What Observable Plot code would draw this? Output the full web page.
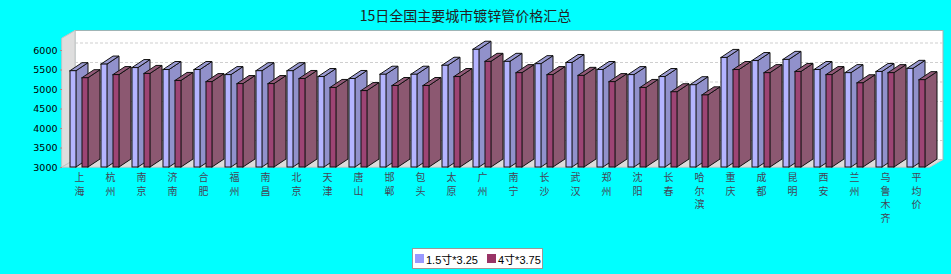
<!DOCTYPE html>
<html><head><meta charset="utf-8">
<script src="https://cdn.jsdelivr.net/npm/d3@7"></script>
<script src="https://cdn.jsdelivr.net/npm/@observablehq/plot@0.6"></script>
<style>
html,body{margin:0;padding:0;background:#00ffff;}
#wrap{width:951px;height:274px;position:relative;overflow:hidden;font-family:"Noto Sans CJK SC",sans-serif;}
#title{height:30px;line-height:30px;text-align:center;font-size:14px;color:#222;padding-right:20px;}
#chart svg{display:block;background:transparent;}
#legend{position:absolute;left:412px;top:248px;width:131px;height:21px;box-sizing:border-box;border:1px solid #999;background:#fff;font-size:11px;font-family:"Liberation Sans","Noto Sans CJK SC",sans-serif;color:#000;display:flex;align-items:center;padding-left:2px;white-space:nowrap;}
#legend .sw{display:inline-block;width:9px;height:9px;margin-right:2px;}
#legend .it{display:flex;align-items:center;margin-right:9px;}
</style></head>
<body><div id="wrap"><div id="title"></div><div id="chart"></div><div id="legend"></div></div>
<script>
const title = "15日全国主要城市镀锌管价格汇总";
const cities = ["上海","杭州","南京","济南","合肥","福州","南昌","北京","天津","唐山","邯郸","包头","太原","广州","南宁","长沙","武汉","郑州","沈阳","长春","哈尔滨","重庆","成都","昆明","西安","兰州","乌鲁木齐","平均价"];
const seriesNames = ["1.5寸*3.25","4寸*3.75"];
const s1 = [5470,5640,5550,5500,5500,5370,5470,5470,5320,5270,5380,5380,5610,6020,5710,5650,5680,5500,5370,5320,5110,5810,5730,5760,5500,5420,5450,5530];
const s2 = [5290,5370,5400,5220,5190,5140,5140,5270,5040,4960,5090,5090,5320,5710,5420,5370,5350,5190,5040,4930,4850,5500,5420,5450,5370,5160,5420,5240];
const yTicks = [3000,3500,4000,4500,5000,5500,6000];

// layout constants
const W = 951, H = 215, mL = 62, mR = 21, mT = 8, mB = 78;
const yMin = 3000, yMax = 6308, n = cities.length;
const xu = px => px / ((W - mL - mR) / n);
const yu = px => px * (yMax - yMin) / (H - mT - mB);
const wallDx = 13, wallDy = 7.5, barDx = 12, barDy = 8;
const labelTop = 10.7, labelStep = 13.4;

document.getElementById("title").textContent = title;

const styles = [
  {off: 8, front: "#b4b4ff", side: "#9191cb", top: "#9a9ad2"},
  {off: 20, front: "#9d4474", side: "#8c5871", top: "#925a78"}
];

function barMarks(vals, st) {
  const fronts = [], sides = [], tops = [];
  vals.forEach((v, i) => {
    const xl = i + xu(st.off), xr = xl + xu(6), dx = xu(barDx), dy = yu(barDy);
    fronts.push({x1: xl, x2: xr, y1: yMin, y2: v});
    sides.push({c: i, x: xr, y1: yMin, y2: v}, {c: i, x: xr + dx, y1: yMin + dy, y2: v + dy});
    tops.push({c: i, y: v, x1: xl, x2: xr}, {c: i, y: v + dy, x1: xl + dx, x2: xr + dx});
  });
  return [
    Plot.areaY(sides, {x: "x", y1: "y1", y2: "y2", z: "c", fill: st.side, stroke: "#111", strokeWidth: 1}),
    Plot.areaX(tops, {y: "y", x1: "x1", x2: "x2", z: "c", fill: st.top, stroke: "#111", strokeWidth: 1}),
    Plot.rect(fronts, {x1: "x1", x2: "x2", y1: "y1", y2: "y2", fill: st.front, stroke: "#111", strokeWidth: 1})
  ];
}

// one text element per character so each label stacks vertically
const labelChars = [];
cities.forEach((c, i) => [...c].forEach((ch, k) => labelChars.push({i, k, ch})));

const wdx = xu(wallDx), wdy = yu(wallDy);
const chart = Plot.plot({
  width: W, height: H,
  marginLeft: mL, marginRight: mR, marginTop: mT, marginBottom: mB,
  style: {background: "transparent", fontFamily: "DejaVu Sans, sans-serif", overflow: "visible"},
  x: {type: "linear", domain: [0, n], axis: null},
  y: {domain: [yMin, yMax], axis: null, clamp: false},
  marks: [
    // back wall
    Plot.rect([{x1: 0, x2: n, y1: yMin, y2: yMax}], {x1: "x1", x2: "x2", y1: "y1", y2: "y2", dx: wallDx, dy: -wallDy, fill: "#fff", stroke: "#9fb5b5", strokeWidth: 1}),
    Plot.ruleY(yTicks.filter(t => t > yMin), {x1: 0, x2: n, dx: wallDx, dy: -wallDy, stroke: "#cfcfcf", strokeDasharray: "3,2"}),
    // left wall
    Plot.areaY([{x: 0, y1: yMin, y2: yMax}, {x: wdx, y1: yMin + wdy, y2: yMax + wdy}], {x: "x", y1: "y1", y2: "y2", fill: "#dedede", stroke: "#c4c4c4"}),
    // floor
    Plot.areaX([{y: yMin, x1: 0, x2: n}, {y: yMin + wdy, x1: wdx, x2: n + wdx}], {y: "y", x1: "x1", x2: "x2", fill: "#dcdcdc", stroke: "#c4c4c4"}),
    ...barMarks(s1, styles[0]),
    ...barMarks(s2, styles[1]),
    Plot.axisY(yTicks, {tickSize: 2, tickPadding: 3, tickFormat: d => String(d), fontSize: 9.5, stroke: "#b08a8a", fill: "#000", label: null}),
    Plot.text(labelChars, {x: d => d.i + xu(17), y: d => yMin - yu(labelTop + d.k * labelStep), text: "ch", fontSize: 10, fill: "#445", fontFamily: "Noto Sans CJK SC"})
  ]
});
document.getElementById("chart").appendChild(chart);

const legendColors = ["#9999ff", "#993366"];
const lg = document.getElementById("legend");
seriesNames.forEach((nm, k) => {
  const it = document.createElement("span");
  it.className = "it";
  const sw = document.createElement("span");
  sw.className = "sw"; sw.style.background = legendColors[k];
  it.appendChild(sw);
  it.appendChild(document.createTextNode(nm));
  lg.appendChild(it);
});
</script>
</body></html>
